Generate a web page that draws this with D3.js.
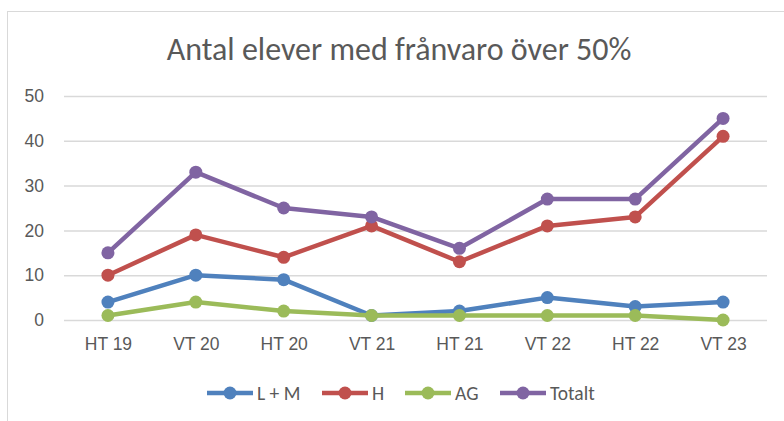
<!DOCTYPE html>
<html>
<head>
<meta charset="utf-8">
<script src="https://cdn.jsdelivr.net/npm/d3@7"></script>
<style>
  body { margin: 0; background: #fff; }
  svg { display: block; font-family: Carlito, "Open Sans", "Noto Sans", sans-serif; }
</style>
</head>
<body>
<svg id="chart" width="784" height="421"></svg>
<script>
var categories = ["HT 19", "VT 20", "HT 20", "VT 21", "HT 21", "VT 22", "HT 22", "VT 23"];
var seriesNames = ["L + M", "H", "AG", "Totalt"];
var seriesColors = ["#4f81bd", "#c0504d", "#9bbb59", "#8064a2"];
var lmValues = [4, 10, 9, 1, 2, 5, 3, 4];
var hValues = [10, 19, 14, 21, 13, 21, 23, 41];
var agValues = [1, 4, 2, 1, 1, 1, 1, 0];
var totalValues = [15, 33, 25, 23, 16, 27, 27, 45];
var yTicks = [0, 10, 20, 30, 40, 50];

var series = [lmValues, hValues, agValues, totalValues].map(function(vals, i) {
  return {name: seriesNames[i], color: seriesColors[i], values: vals};
});

var margin = {top: 96, right: 17, bottom: 101, left: 64};
var width = 784 - margin.left - margin.right;
var height = 421 - margin.top - margin.bottom;

var svg = d3.select("#chart");

// chart frame
svg.append("rect")
    .attr("x", 7.5).attr("y", 11.5)
    .attr("width", 800).attr("height", 440)
    .attr("fill", "none")
    .attr("stroke", "#d9d9d9");

svg.append("text")
    .attr("x", 399).attr("y", 60)
    .attr("text-anchor", "middle")
    .attr("fill", "#595959")
    .style("font-size", "32px")
    .text("Antal elever med frånvaro över 50%");

var g = svg.append("g")
    .attr("transform", "translate(" + margin.left + "," + margin.top + ")");

var x = d3.scalePoint()
    .domain(categories)
    .range([0, width])
    .padding(0.5);

var y = d3.scaleLinear()
    .domain([0, 50])
    .range([height, 0]);

// gridlines
g.append("g")
  .selectAll("line")
  .data(yTicks)
  .join("line")
    .attr("x1", 0).attr("x2", width)
    .attr("y1", function(d) { return y(d) + 0.5; })
    .attr("y2", function(d) { return y(d) + 0.5; })
    .attr("stroke", "#d9d9d9")
    .attr("stroke-width", 1.5);

var yAxis = g.append("g")
    .call(d3.axisLeft(y).tickValues(yTicks).tickSize(0).tickPadding(20));
yAxis.select(".domain").remove();
yAxis.selectAll("text")
    .attr("fill", "#595959")
    .style("font-size", "17.5px");

var xAxis = g.append("g")
    .attr("transform", "translate(0," + height + ")")
    .call(d3.axisBottom(x).tickSize(0).tickPadding(18));
xAxis.select(".domain").remove();
xAxis.selectAll("text")
    .attr("fill", "#595959")
    .style("font-size", "17.5px");

var line = d3.line()
    .x(function(d, i) { return x(categories[i]); })
    .y(function(d) { return y(d); });

var sg = g.selectAll(".series")
  .data(series)
  .join("g")
    .attr("class", "series");

sg.append("path")
    .attr("d", function(d) { return line(d.values); })
    .attr("fill", "none")
    .attr("stroke", function(d) { return d.color; })
    .attr("stroke-width", 4.5)
    .attr("stroke-linejoin", "round");

sg.selectAll("circle")
  .data(function(d) { return d.values.map(function(v, i) { return {v: v, i: i, color: d.color}; }); })
  .join("circle")
    .attr("cx", function(d) { return x(categories[d.i]); })
    .attr("cy", function(d) { return y(d.v); })
    .attr("r", 6.5)
    .attr("fill", function(d) { return d.color; });

// legend
var legendX = [207, 322, 405, 500];
var legend = svg.append("g")
    .attr("transform", "translate(0,393)");

var items = legend.selectAll("g")
  .data(series)
  .join("g")
    .attr("transform", function(d, i) { return "translate(" + legendX[i] + ",0)"; });

items.append("line")
    .attr("x1", 0).attr("x2", 46)
    .attr("stroke", function(d) { return d.color; })
    .attr("stroke-width", 4.5);
items.append("circle")
    .attr("cx", 23).attr("r", 6.5)
    .attr("fill", function(d) { return d.color; });
items.append("text")
    .attr("x", 50).attr("dy", "0.35em")
    .attr("fill", "#595959")
    .style("font-size", "19.5px")
    .text(function(d) { return d.name; });
</script>
</body>
</html>
